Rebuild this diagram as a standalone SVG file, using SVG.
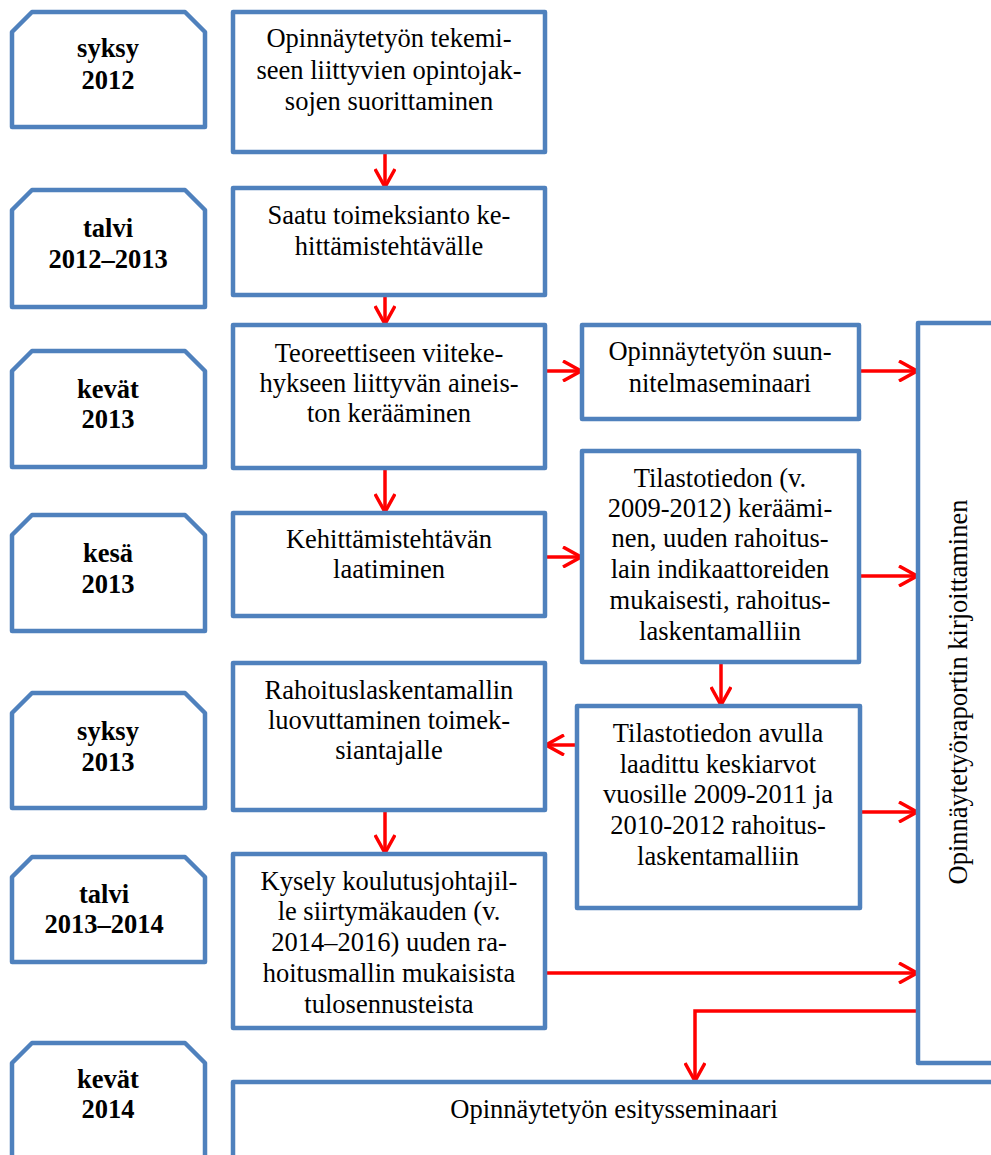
<svg xmlns="http://www.w3.org/2000/svg" width="991" height="1155" viewBox="0 0 991 1155">
<defs>
<style>
.box{fill:#fff;stroke:#4F81BD;stroke-width:4.5;stroke-linejoin:round}
.t{font-family:"Liberation Serif","Times New Roman",serif;font-size:26.5px;fill:#000;text-anchor:middle}
.b{font-weight:bold}
.c{fill:none;stroke:#FF0000;stroke-width:3.5;marker-end:url(#ah)}
</style>
<marker id="ah" viewBox="0 0 20 22" refX="19" refY="11" markerWidth="20" markerHeight="22" markerUnits="userSpaceOnUse" orient="auto">
<path d="M1,1 L19,11 L1,21" fill="none" stroke="#FF0000" stroke-width="3.5"/>
</marker>
</defs>
<rect width="991" height="1155" fill="#fff"/>

<g id="connectors">
<line class="c" x1="385" y1="152" x2="385" y2="187"/>
<line class="c" x1="385" y1="295" x2="385" y2="324"/>
<line class="c" x1="545" y1="371" x2="581" y2="371"/>
<line class="c" x1="859" y1="371" x2="917" y2="371"/>
<line class="c" x1="385" y1="468" x2="385" y2="512"/>
<line class="c" x1="545" y1="557" x2="581" y2="557"/>
<line class="c" x1="859" y1="576" x2="917" y2="576"/>
<line class="c" x1="721" y1="662" x2="721" y2="705"/>
<line class="c" x1="577" y1="745" x2="546" y2="745"/>
<line class="c" x1="860" y1="812" x2="917" y2="812"/>
<line class="c" x1="385" y1="810" x2="385" y2="853"/>
<line class="c" x1="545" y1="973" x2="917" y2="973"/>
<polyline class="c" points="918,1011 695,1011 695,1081"/>
</g>

<g id="season1"><path class="box" d="M12,32 L32,12 L185,12 L205,32 L205,127 L12,127 Z"/>
<text class="t b" x="108" y="57">syksy</text><text class="t b" x="108" y="89">2012</text></g>
<g id="season2"><path class="box" d="M12,210 L32,190 L185,190 L205,210 L205,307 L12,307 Z"/>
<text class="t b" x="108" y="237">talvi</text><text class="t b" x="108" y="268">2012–2013</text></g>
<g id="season3"><path class="box" d="M12,371 L32,351 L185,351 L205,371 L205,467 L12,467 Z"/>
<text class="t b" x="108" y="398">kevät</text><text class="t b" x="108" y="428">2013</text></g>
<g id="season4"><path class="box" d="M12,535 L32,515 L185,515 L205,535 L205,631 L12,631 Z"/>
<text class="t b" x="108" y="562">kesä</text><text class="t b" x="108" y="593">2013</text></g>
<g id="season5"><path class="box" d="M12,713 L32,693 L185,693 L205,713 L205,808 L12,808 Z"/>
<text class="t b" x="108" y="740">syksy</text><text class="t b" x="108" y="771">2013</text></g>
<g id="season6"><path class="box" d="M12,877 L32,857 L185,857 L205,877 L205,962 L12,962 Z"/>
<text class="t b" x="104" y="903">talvi</text><text class="t b" x="104" y="933">2013–2014</text></g>
<g id="season7"><path class="box" d="M12,1063 L32,1043 L185,1043 L205,1063 L205,1165 L12,1165 Z"/>
<text class="t b" x="108" y="1088">kevät</text><text class="t b" x="108" y="1118">2014</text></g>

<g id="nodeA"><rect class="box" x="233" y="12" width="312" height="140"/>
<text class="t"><tspan x="389" y="47">Opinnäytetyön tekemi-</tspan><tspan x="389" y="79">seen liittyvien opintojak-</tspan><tspan x="389" y="110">sojen suorittaminen</tspan></text></g>
<g id="nodeB"><rect class="box" x="233" y="188" width="312" height="107"/>
<text class="t"><tspan x="389" y="224">Saatu toimeksianto ke-</tspan><tspan x="389" y="255">hittämistehtävälle</tspan></text></g>
<g id="nodeC"><rect class="box" x="233" y="325" width="312" height="143"/>
<text class="t"><tspan x="389" y="362">Teoreettiseen viiteke-</tspan><tspan x="389" y="392">hykseen liittyvän aineis-</tspan><tspan x="389" y="422">ton kerääminen</tspan></text></g>
<g id="nodeD"><rect class="box" x="233" y="513" width="312" height="103"/>
<text class="t"><tspan x="389" y="548">Kehittämistehtävän</tspan><tspan x="389" y="578">laatiminen</tspan></text></g>
<g id="nodeE"><rect class="box" x="233" y="663" width="312" height="147"/>
<text class="t"><tspan x="389" y="699">Rahoituslaskentamallin</tspan><tspan x="389" y="729">luovuttaminen toimek-</tspan><tspan x="389" y="759">siantajalle</tspan></text></g>
<g id="nodeF"><rect class="box" x="233" y="854" width="312" height="174"/>
<text class="t"><tspan x="389" y="890">Kysely koulutusjohtajil-</tspan><tspan x="389" y="920">le siirtymäkauden (v.</tspan><tspan x="389" y="951">2014–2016) uuden ra-</tspan><tspan x="389" y="982">hoitusmallin mukaisista</tspan><tspan x="389" y="1013">tulosennusteista</tspan></text></g>
<g id="nodeH"><rect class="box" x="582" y="325" width="277" height="94"/>
<text class="t"><tspan x="720" y="360">Opinnäytetyön suun-</tspan><tspan x="720" y="392">nitelmaseminaari</tspan></text></g>
<g id="nodeI"><rect class="box" x="582" y="451" width="277" height="211"/>
<text class="t"><tspan x="720" y="487">Tilastotiedon (v.</tspan><tspan x="720" y="517">2009-2012) keräämi-</tspan><tspan x="720" y="547">nen, uuden rahoitus-</tspan><tspan x="720" y="578">lain indikaattoreiden</tspan><tspan x="720" y="609">mukaisesti, rahoitus-</tspan><tspan x="720" y="640">laskentamalliin</tspan></text></g>
<g id="nodeJ"><rect class="box" x="577" y="706" width="283" height="202"/>
<text class="t"><tspan x="718" y="742">Tilastotiedon avulla</tspan><tspan x="718" y="773">laadittu keskiarvot</tspan><tspan x="718" y="803">vuosille 2009-2011 ja</tspan><tspan x="718" y="834">2010-2012 rahoitus-</tspan><tspan x="718" y="865">laskentamalliin</tspan></text></g>
<g id="nodeK"><rect class="box" x="918" y="323" width="120" height="740"/>
<text class="t" transform="translate(967,692) rotate(-90)" x="0" y="0">Opinnäytetyöraportin kirjoittaminen</text></g>
<g id="nodeG"><rect class="box" x="233" y="1082" width="800" height="120"/>
<text class="t" x="614" y="1118">Opinnäytetyön esitysseminaari</text></g>
</svg>
